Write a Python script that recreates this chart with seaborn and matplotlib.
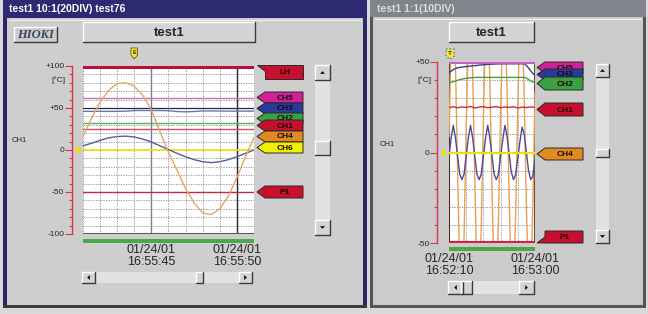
import matplotlib
matplotlib.use("Agg")
import matplotlib.pyplot as plt
from matplotlib.patches import Rectangle, Polygon
import seaborn as sns

sns.set_style("white")
plt.rcParams['font.family'] = ['Liberation Sans', 'DejaVu Sans']

W, H = 648, 314

# ---- left window: 10:1 (20DIV), seconds after 16:55:00 ----
left_t = [41.0, 41.5, 42.0, 42.5, 43.0, 43.5, 44.0, 44.5, 45.0, 45.5, 46.0,
          46.5, 47.0, 47.5, 48.0, 48.5, 49.0, 49.5, 50.0, 50.5, 51.0]
left_ch4 = [16, 38, 57, 71, 79, 80, 76, 65, 48, 22, -3,
            -24, -46, -63, -75, -77, -70, -55, -33, -8, 15]
left_wave = [5, 8, 11.5, 14.5, 16, 16.5, 15.5, 13, 9.5, 5, 0.5,
             -4, -8, -11.5, -14, -15, -14, -11.5, -8, -4, 0]
left_ch3 = [46, 46, 46, 46, 46, 46.2, 47, 47, 47, 47, 46.8,
            45.8, 45.4, 45.8, 46.5, 46.5, 46.4, 46.3, 46.3, 46.3, 46.3]
left_level_names = ['LH', 'CH5', 'CH2', 'CH1', 'CH6', 'P1']
left_level_values = [99, 62, 32, 25, 0, -50]
left_time_ticks = [45, 50]
left_time_labels = ['01/24/01\n16:55:45', '01/24/01\n16:55:50']

# ---- right window: 1:1 (10DIV), seconds after 16:52:00 ----
right_t = [10.0, 11.25, 12.5, 13.75, 15.0, 16.25, 17.5, 18.75, 20.0, 21.25,
           22.5, 23.75, 25.0, 26.25, 27.5, 28.75, 30.0, 31.25, 32.5, 33.75,
           35.0, 36.25, 37.5, 38.75, 40.0, 41.25, 42.5, 43.75, 45.0, 46.25,
           47.5, 48.75, 50.0, 51.25, 52.5, 53.75, 55.0, 56.25, 57.5, 58.75, 60.0]
right_ch4 = [9, 63, 79, 49, -11, -64, -79, -47, 14, 66,
             79, 45, -16, -67, -78, -42, 19, 69, 78, 40,
             -21, -70, -77, -38, 23, 71, 76, 35, -26, -72,
             -76, -34, 27, 73, 74, 30, -31, -74, -73, -29, 33]
right_wave = [-2, 8, 15, 8, -2, -12, -15, -12, -2, 8,
              15, 8, -2, -12, -15, -12, -2, 8, 15, 8,
              -2, -12, -15, -12, -2, 7, 15, 9, -1, -11,
              -15, -12, -3, 6, 14, 10, 0, -10, -15, -13, -4]
right_trend_t = [10, 12, 14, 16, 20, 25, 30, 35, 40, 45, 50, 54, 56, 58, 60]
right_ch3 = [44, 45.5, 46.5, 47, 47.5, 48, 48.5, 48.8, 49, 49, 49, 49, 47, 44.5, 42.5]
right_ch2 = [38.5, 39, 39.5, 40.2, 41, 41.5, 41.5, 41.5, 41.5, 41.5, 41.5, 41.5, 40.5, 39.2, 38.5]
right_ch1_t = [10, 12.5, 15, 17.5, 20, 22.5, 25, 27.5, 30, 32.5, 35,
               37.5, 40, 42.5, 45, 47.5, 50, 52.5, 55, 57.5, 60]
right_ch1 = [24.8, 25.3, 24.7, 25.2, 24.9, 25.4, 24.6, 25.1, 25.3, 24.8, 25.0,
             25.4, 24.7, 25.2, 24.9, 25.3, 24.6, 25.1, 24.8, 25.2, 25.0]
right_level_names = ['CH5', 'CH6', 'P1']
right_level_values = [49.5, 0, -49.5]
right_time_ticks = [10, 60]
right_time_labels = ['01/24/01\n16:52:10', '01/24/01\n16:53:00']

RED = '#e0304f'

fig = plt.figure(figsize=(6.48, 3.14), dpi=100, facecolor='#d9d9d9')
bg = fig.add_axes([0, 0, 1, 1])
bg.set_xlim(0, W)
bg.set_ylim(H, 0)
bg.axis('off')


def px_axes(x0, y0, x1, y1):
    return fig.add_axes([x0 / W, 1 - y1 / H, (x1 - x0) / W, (y1 - y0) / H])


def rect(x0, y0, x1, y1, color, z=1):
    bg.add_patch(Rectangle((x0, y0), x1 - x0, y1 - y0, fc=color, ec='none', zorder=z))


def bevel(x0, y0, x1, y1, face='#d4d4d4', z=2):
    rect(x0, y0, x1, y1, face, z)
    bg.plot([x0, x0, x1], [y1, y0, y0], color='white', lw=1, zorder=z + 0.1)
    bg.plot([x0, x1, x1], [y1, y1, y0], color='#3a3a3a', lw=1, zorder=z + 0.1)


def arrow(cx, cy, d):
    s = 2.5
    pts = {'up': [(cx - s, cy + 1.3), (cx + s, cy + 1.3), (cx, cy - 1.3)],
           'down': [(cx - s, cy - 1.3), (cx + s, cy - 1.3), (cx, cy + 1.3)],
           'left': [(cx + 1.3, cy - s), (cx + 1.3, cy + s), (cx - 1.3, cy)],
           'right': [(cx - 1.3, cy - s), (cx - 1.3, cy + s), (cx + 1.3, cy)]}[d]
    bg.add_patch(Polygon(pts, closed=True, fc='black', ec='none', zorder=4))


def tag(x_tip, y0, y1, x1, color, label, z, shape='arrow'):
    xb = x_tip + 8
    ym = (y0 + y1) / 2
    if shape == 'arrow':
        pts = [(x_tip, ym), (xb, y0), (x1, y0), (x1, y1), (xb, y1)]
    elif shape == 'flag_top':
        pts = [(x_tip, y0), (x1, y0), (x1, y1), (xb, y1), (xb, y0 + 6)]
    else:
        pts = [(x_tip, y1), (xb, y1 - 6), (xb, y0), (x1, y0), (x1, y1)]
    bg.add_patch(Polygon(pts, closed=True, fc=color, ec='#2a2a2a', lw=0.7, zorder=z))
    bg.text((xb + x1) / 2 + 1, ym + 0.5, label, ha='center', va='center', fontsize=6,
            fontweight='bold', color='#1a0510', zorder=z + 0.5)


def vscroll(x0, y0, x1, y1, thumb0, thumb1):
    rect(x0, y0, x1, y1, '#e2e2e2', 1.5)
    b = x1 - x0
    bevel(x0, y0, x1, y0 + b)
    bevel(x0, y1 - b, x1, y1)
    bevel(x0, thumb0, x1, thumb1)
    arrow((x0 + x1) / 2, y0 + b / 2, 'up')
    arrow((x0 + x1) / 2, y1 - b / 2, 'down')


def hscroll(x0, y0, x1, y1, thumb0, thumb1):
    rect(x0, y0, x1, y1, '#e2e2e2', 1.5)
    b = y1 - y0 + 2
    bevel(x0, y0, x0 + b, y1)
    bevel(x1 - b, y0, x1, y1)
    bevel(thumb0, y0, thumb1, y1)
    arrow(x0 + b / 2, (y0 + y1) / 2, 'left')
    arrow(x1 - b / 2, (y0 + y1) / 2, 'right')


# ---- window chrome ----
rect(3, 0, 367, 308, '#2a2866', 0.5)
rect(7, 18, 363, 305, '#cecece', 0.6)
rect(3, 305, 367, 308, '#3c3c3c', 0.7)
rect(3, 0, 367, 18, '#2e2a72', 0.7)
bg.text(9, 9.5, 'test1 10:1(20DIV) test76', ha='left', va='center', fontsize=7.5,
        fontweight='bold', color='white', zorder=3)

rect(370, 0, 646, 308, '#555555', 0.5)
rect(373, 17, 643, 305, '#cbcbcb', 0.6)
rect(370, 0, 646, 17, '#80858b', 0.7)
bg.text(377, 9, 'test1 1:1(10DIV)', ha='left', va='center', fontsize=7.5,
        fontweight='bold', color='#dcdcdc', zorder=3)
bg.plot([375, 641], [19, 19], color='#f0f0f0', lw=0.8, zorder=0.8)
bg.plot([9, 361], [20, 20], color='#f0f0f0', lw=0.8, zorder=0.8)

# buttons
bevel(14, 27, 57, 42, '#cccccc')
bg.text(35.5, 35, 'HIOKI', ha='center', va='center', fontsize=9, fontweight='bold',
        fontstyle='italic', family='Liberation Serif', color='#3a4660', zorder=4)
bevel(83, 22, 255, 42)
bg.text(169, 32.5, 'test1', ha='center', va='center', fontsize=9.5, fontweight='bold', zorder=4)
bevel(449, 22, 534, 42)
bg.text(491.5, 32.5, 'test1', ha='center', va='center', fontsize=9.5, fontweight='bold', zorder=4)

# trigger markers
bg.add_patch(Polygon([(131, 48), (137.5, 48), (137.5, 55), (134.3, 59), (131, 55)],
                     closed=True, fc='#f2e830', ec='#6a5a00', lw=0.6, zorder=4))
bg.text(134.3, 52.5, 'E', ha='center', va='center', fontsize=4, fontweight='bold', zorder=5)
bg.add_patch(Polygon([(446, 49), (454, 49), (454, 56), (450, 59.5), (446, 56)],
                     closed=True, fc='#f2e830', ec='#3a6ad8', lw=1, ls=':', zorder=4))
bg.text(450, 53.5, 'T', ha='center', va='center', fontsize=4.5, fontweight='bold', zorder=5)

# zero markers
bg.add_patch(Polygon([(76, 146), (82, 150), (76, 154)], closed=True, fc='#f0e000', ec='none', zorder=4))
bg.add_patch(Polygon([(442, 149), (447, 153), (442, 157)], closed=True, fc='#f0e000', ec='none', zorder=4))

# channel captions and units
bg.text(19.5, 140, 'CH1', ha='center', va='center', fontsize=5.5, zorder=4)
bg.text(387.5, 145, 'CH1', ha='center', va='center', fontsize=5.5, zorder=4)
bg.text(65.5, 80, '[°C]', ha='right', va='center', fontsize=6, zorder=4)
bg.text(431, 80, '[°C]', ha='right', va='center', fontsize=6, zorder=4)

# green range bars
rect(83, 239, 254, 242.5, '#4aa84a', 3)
rect(449, 247, 535, 250.5, '#4aa84a', 3)

# scroll bars
vscroll(315, 65, 330, 235, 141, 155)
hscroll(82, 272, 252, 283, 196, 203)
vscroll(596, 64, 609, 243, 149, 157)
hscroll(448, 281, 534, 294, 461, 472)

# channel tags, left window
tag(257, 65, 79, 303, '#c8102e', 'LH', 10, 'flag_top')
tag(257, 92, 103, 303, '#d0209a', 'CH5', 11)
tag(257, 103, 114, 303, '#2a3a9a', 'CH3', 12)
tag(257, 113, 124, 303, '#3aa040', 'CH2', 13)
tag(257, 120, 131, 303, '#c8102e', 'CH1', 14)
tag(257, 131, 142, 303, '#e08a20', 'CH4', 15)
tag(257, 142, 153, 303, '#f0f000', 'CH6', 16)
tag(257, 186, 198, 303, '#c8102e', 'P1', 17)

# channel tags, right window
tag(537, 62, 73, 583, '#d0209a', 'CH5', 11)
tag(537, 69, 80, 583, '#2a3a9a', 'CH3', 12)
tag(537, 77, 90, 583, '#3aa040', 'CH2', 13)
tag(537, 103, 116, 583, '#c8102e', 'CH1', 14)
tag(537, 148, 160, 583, '#e08a20', 'CH4', 15)
tag(537, 231, 243, 583, '#c8102e', 'P1', 16, 'flag_bottom')


def style_ruler(ax, major, major_labels, minor, ticks, labels, outward):
    ax.set_facecolor('white')
    ax.set_yticks(major, labels=major_labels)
    ax.set_yticks(minor, minor=True)
    ax.set_xticks(ticks, labels=labels)
    ax.grid(which='both', color='#8a8a8a', ls=(0, (1.5, 1.5)), lw=0.6)
    for s in ['top', 'right', 'bottom']:
        ax.spines[s].set_visible(False)
    ax.spines['left'].set_position(('outward', outward))
    ax.spines['left'].set_color(RED)
    ax.spines['left'].set_linewidth(1)
    ax.tick_params(axis='y', which='major', length=5, width=0.8, color=RED,
                   labelsize=6, pad=0.5, left=True)
    ax.tick_params(axis='y', which='minor', length=2.5, width=0.8, color=RED, left=True)
    ax.tick_params(axis='x', which='both', length=0, labelsize=9, pad=7.5)
    for lbl in ax.get_xticklabels():
        lbl.set_linespacing(0.95)
    ax.set_xlabel('')
    ax.set_ylabel('')


# ---- left chart ----
axl = px_axes(83, 66, 254, 234)
axl.set_zorder(5)
axl.set_xlim(41, 51)
axl.set_ylim(-100, 100)
style_ruler(axl, [-100, -50, 0, 50, 100], ['-100', '-50', '0', '+50', '+100'],
            list(range(-90, 100, 10)), left_time_ticks, left_time_labels, 8)
axl.set_xticks(list(range(41, 52)), minor=True)
axl.grid(which='minor', axis='x', color='#8a8a8a', ls=(0, (1.5, 1.5)), lw=0.6)
axl.axvline(45, color='#7a7a8c', lw=1)
axl.axvline(50, color='#262636', lw=1)
axl.axhline(50, color='#26264a', lw=0.9)
axl.axhline(-100, color='#5a5a5a', lw=1.5)

left_colors = {'LH': '#b4103a', 'CH5': '#cc70b8', 'CH2': '#5cb05c', 'CH1': '#d04a6a',
               'CH6': '#f0e000', 'P1': '#c42848'}
left_widths = {'LH': 2.2, 'CH5': 1.0, 'CH2': 1.0, 'CH1': 1.0, 'CH6': 1.2, 'P1': 1.0}
for name, val in zip(left_level_names, left_level_values):
    axl.axhline(val, color=left_colors[name], lw=left_widths[name])
sns.lineplot(x=left_t, y=left_ch3, ax=axl, color='#6a78a8', lw=1, estimator=None)
sns.lineplot(x=left_t, y=left_wave, ax=axl, color='#5a5aa0', lw=1, estimator=None)
sns.lineplot(x=left_t, y=left_ch4, ax=axl, color='#e0a860', lw=1, estimator=None)
axl.set_xlabel('')
axl.set_ylabel('')

# ---- right chart ----
axr = px_axes(449, 62, 535, 243)
axr.set_zorder(5)
axr.set_xlim(10, 60)
axr.set_ylim(-50, 50)
style_ruler(axr, [-50, 0, 50], ['-50', '0', '+50'], list(range(-40, 50, 10)),
            right_time_ticks, right_time_labels, 8.4)
axr.set_xticks([20, 30, 40, 50], minor=True)
axr.grid(which='minor', axis='x', color='#8a8a8a', ls=(0, (1.5, 1.5)), lw=0.6)
axr.axvline(10, color='#4a2a20', lw=1.5)
axr.axvline(60, color='#6a4a30', lw=1.5)

sns.lineplot(x=right_t, y=right_ch4, ax=axr, color='#e8a050', lw=1, estimator=None)
sns.lineplot(x=right_t, y=right_wave, ax=axr, color='#4a4aa0', lw=1, estimator=None)
sns.lineplot(x=right_trend_t, y=right_ch2, ax=axr, color='#40a040', lw=1, estimator=None)
sns.lineplot(x=right_trend_t, y=right_ch3, ax=axr, color='#3a3a9a', lw=1, estimator=None)
sns.lineplot(x=right_ch1_t, y=right_ch1, ax=axr, color='#c03040', lw=1, estimator=None)
right_colors = {'CH5': '#c060c0', 'CH6': '#f0e000', 'P1': '#d02040'}
for name, val in zip(right_level_names, right_level_values):
    axr.axhline(val, color=right_colors[name], lw=1.5)
axr.set_xlabel('')
axr.set_ylabel('')

fig.savefig('out.png', dpi=100, facecolor=fig.get_facecolor())
